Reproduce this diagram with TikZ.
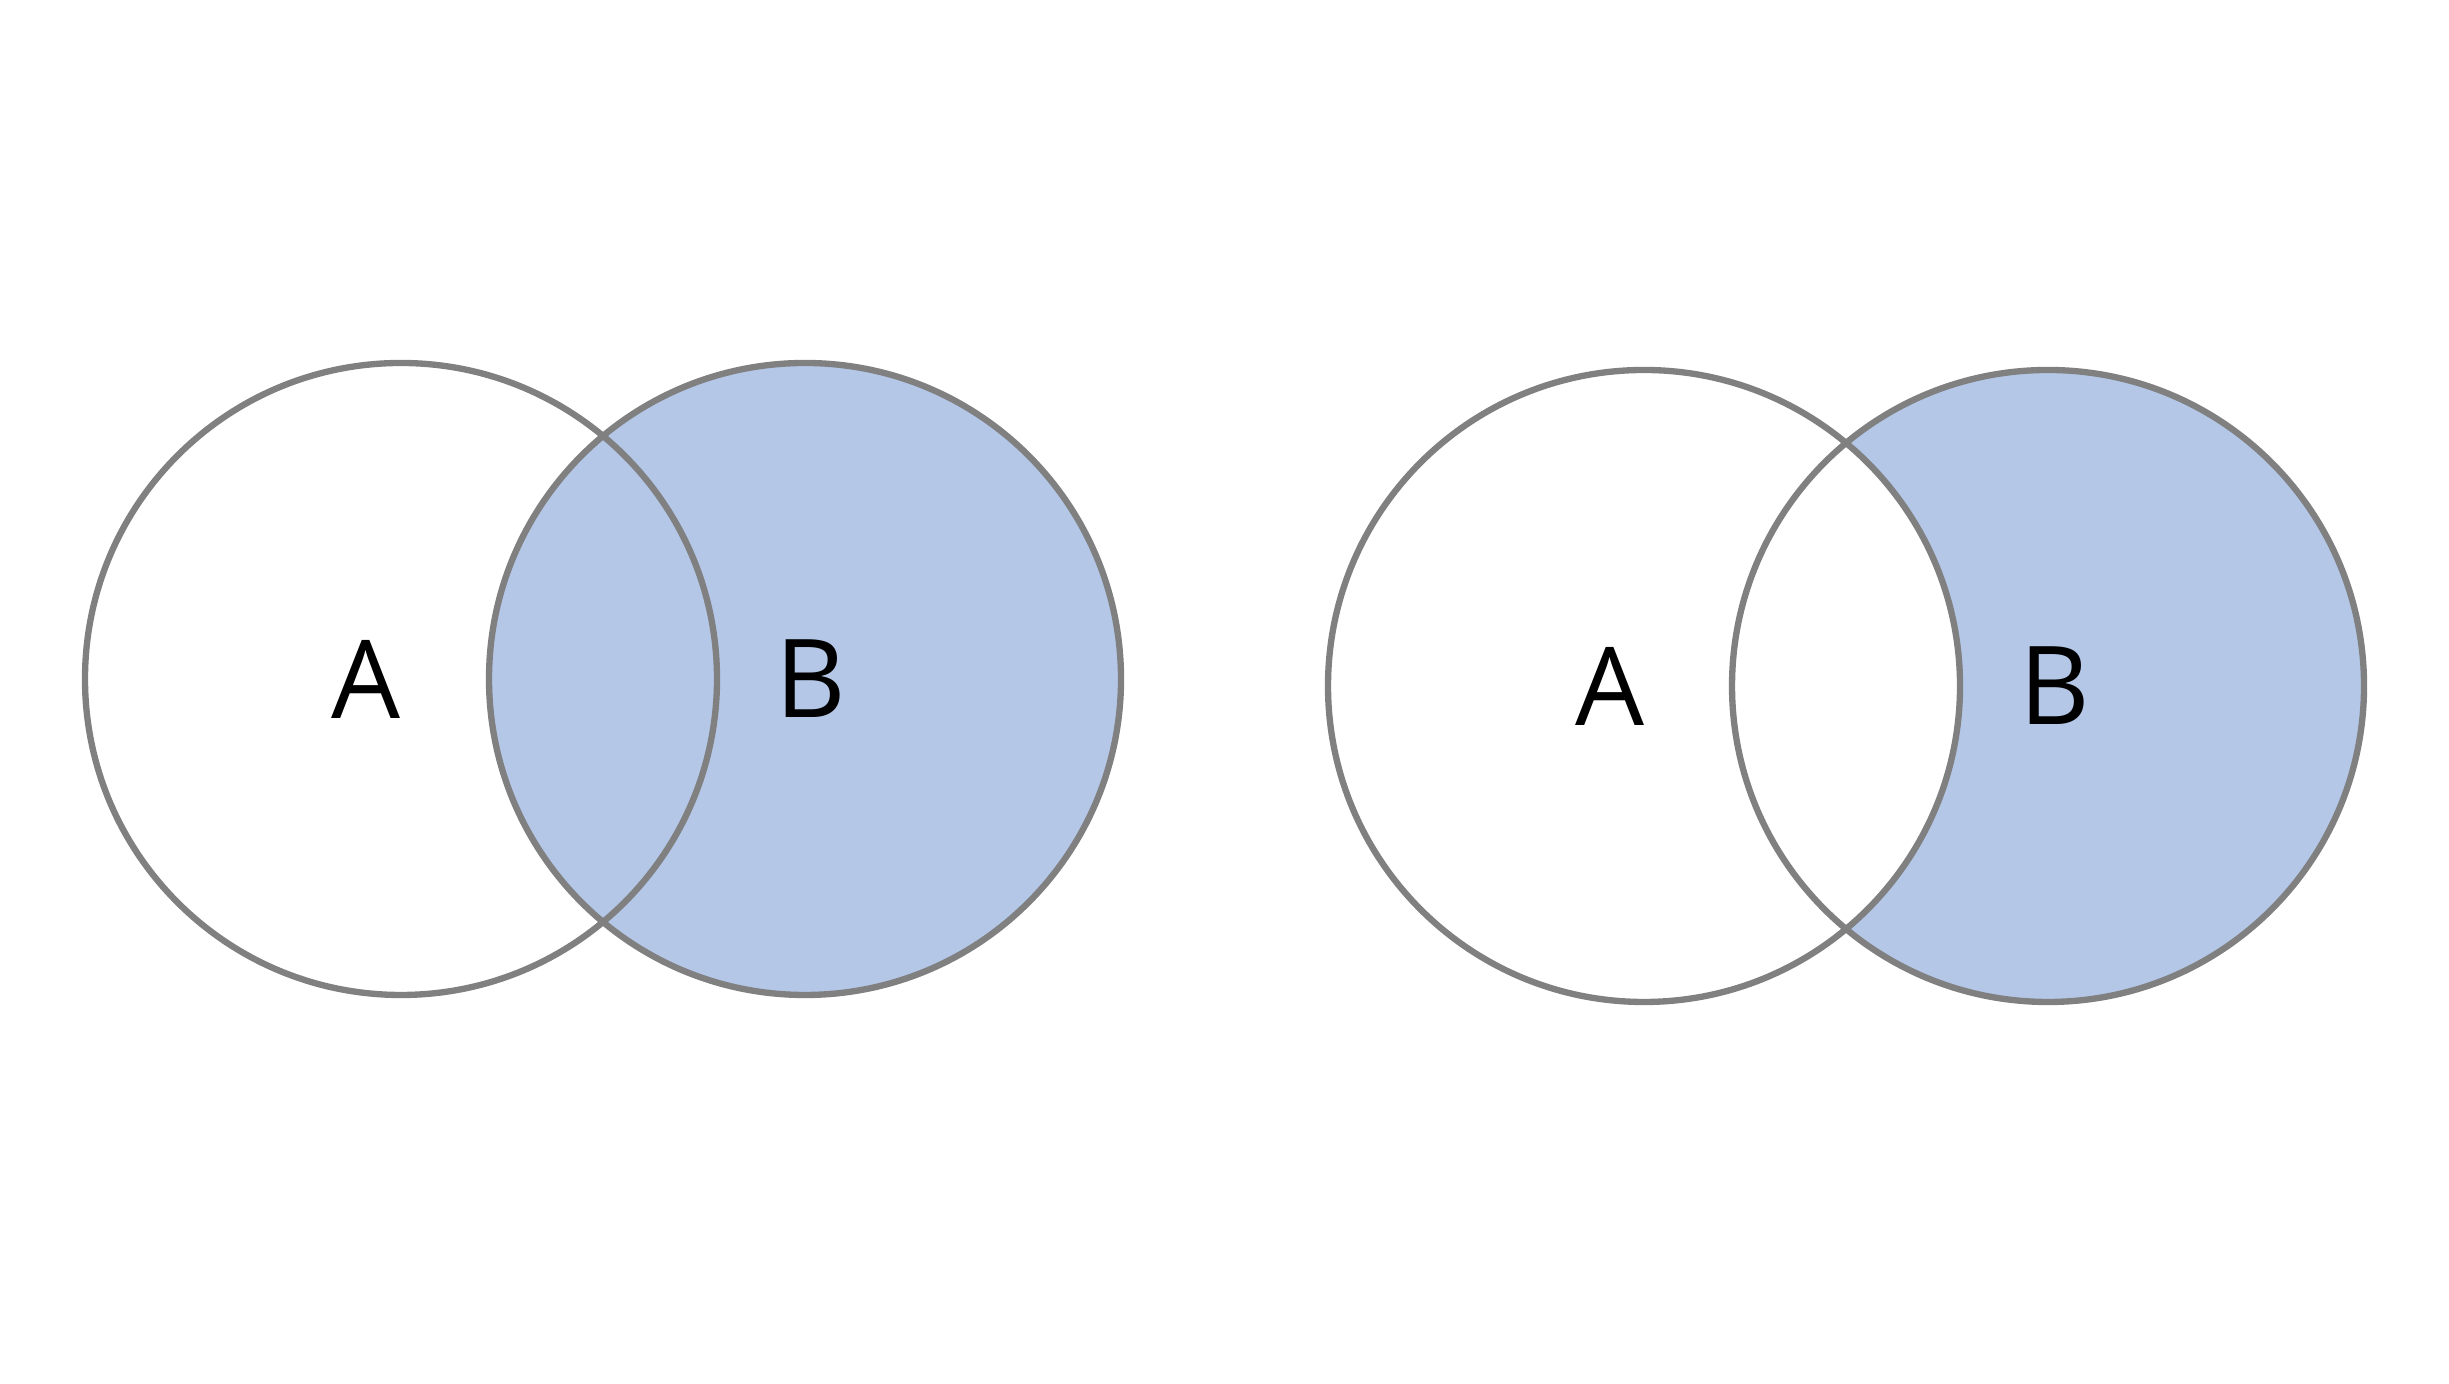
\documentclass[tikz,border=0pt]{standalone}
\usepackage{fontspec}
\setmainfont{Open Sans}
\definecolor{setfill}{HTML}{B4C7E7}
\definecolor{setline}{HTML}{808080}
\tikzset{
	setcircle/.style={draw=setline,line width=1.8pt},
	setlabel/.style={font=\fontsize{31}{31}\selectfont,inner sep=0pt}
}
\begin{document}
\begin{tikzpicture}[baseline=0]
\useasboundingbox (0,0) rectangle (24.49,13.84);
% left: B shaded
\begin{scope}
\fill[setfill] (8.05,7.05) circle (3.16);
\draw[setcircle] (4.01,7.05) circle (3.16);
\draw[setcircle] (8.05,7.05) circle (3.16);
\node[setlabel] (la) at (3.66,7.05) {A};
\node[setlabel] (lb) at (8.11,7.05) {B};
\end{scope}
% right: B without A
\begin{scope}
\fill[setfill] (20.48,6.98) circle (3.16);
\fill[white] (16.44,6.98) circle (3.16);
\draw[setcircle] (16.44,6.98) circle (3.16);
\draw[setcircle] (20.48,6.98) circle (3.16);
\node[setlabel] (ra) at (16.10,6.98) {A};
\node[setlabel] (rb) at (20.55,6.98) {B};
\end{scope}
\end{tikzpicture}
\end{document}
